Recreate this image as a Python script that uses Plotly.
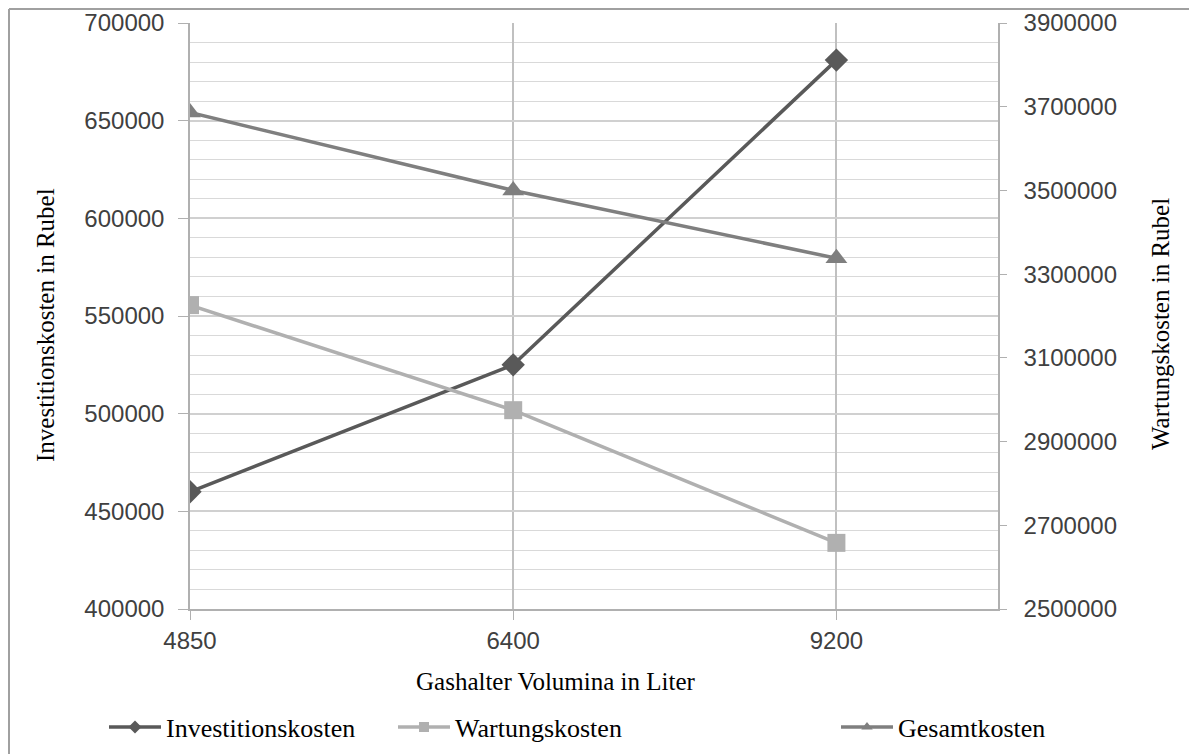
import plotly.graph_objects as go

# Gashalter volumes (category axis)
volumina = ["4850", "6400", "9200"]
x_pos = [0, 1, 2]

# left axis
investitionskosten = [460000, 525000, 681000]
# right axis
wartungskosten = [3226000, 2975000, 2658000]
gesamtkosten = [3686000, 3500000, 3338000]

# page has an 8px body margin, so the figure sits at (8, 8)
OFF = 8
W, H = 1197 - OFF, 754 - OFF
# plot area in page pixels: x 190..998, y 23..609
L, R, T, B = 190, 998, 23, 609


def px_x(px):
    return (px - L) / (R - L)


def px_y(py):
    return (B - py) / (B - T)


series = [
    ("Investitionskosten", investitionskosten, "y", "#595959", "diamond", 18, "legend"),
    ("Wartungskosten", wartungskosten, "y2", "#b0b0b0", "square", 18, "legend2"),
    ("Gesamtkosten", gesamtkosten, "y2", "#7f7f7f", "triangle-up", 19, "legend3"),
]

fig = go.Figure()

for name, vals, yax, col, sym, size, lg in series:
    fig.add_trace(go.Scatter(
        x=x_pos, y=vals, name=name, yaxis=yax, showlegend=False,
        mode="lines+markers", line=dict(color=col, width=3.5),
        marker=dict(symbol=sym, size=size, color=col)))
    # legend entry with the small marker used in the original
    fig.add_trace(go.Scatter(
        x=[None], y=[None], name=name, yaxis=yax, legend=lg,
        mode="lines+markers", line=dict(color=col, width=3.5),
        marker=dict(symbol=sym, size=10, color=col)))

tick_font = dict(family="Liberation Sans, Arial", size=24, color="#404040")
serif = dict(family="Liberation Serif, Times New Roman", size=25, color="black")
legend_font = dict(family="Liberation Serif, Times New Roman", size=26, color="black")

leg = dict(xanchor="left", yanchor="middle", font=legend_font,
           bgcolor="rgba(0,0,0,0)", itemwidth=52)

fig.update_layout(
    width=W, height=H,
    margin=dict(l=L - OFF, r=W - (R - OFF), t=T - OFF, b=H - (B - OFF),
                autoexpand=False),
    paper_bgcolor="white", plot_bgcolor="white",
    xaxis=dict(
        range=[0, 2.5], tickvals=x_pos, ticktext=volumina, automargin=False,
        showgrid=True, gridcolor="#c0c0c0", gridwidth=1.5,
        showline=True, linecolor="#b0b0b0", linewidth=1.5,
        ticks="outside", ticklen=9, tickcolor="#b0b0b0",
        tickfont=tick_font, zeroline=False, fixedrange=True),
    yaxis=dict(
        range=[400000, 700000], dtick=50000, tickformat="d", automargin=False,
        showgrid=True, gridcolor="#d0d0d0", gridwidth=1.5,
        minor=dict(dtick=10000, showgrid=True, gridcolor="#d9d9d9", gridwidth=1.2),
        showline=True, linecolor="#b0b0b0", linewidth=1.5,
        ticks="outside", ticklen=10, tickcolor="#b0b0b0",
        ticklabelstandoff=9,
        tickfont=tick_font, zeroline=False),
    yaxis2=dict(
        range=[2500000, 3900000], tick0=2500000, dtick=200000, tickformat="d",
        automargin=False,
        overlaying="y", side="right", showgrid=False,
        showline=True, linecolor="#b0b0b0", linewidth=1.5,
        ticks="outside", ticklen=7, tickcolor="#b0b0b0",
        ticklabelstandoff=12,
        tickfont=tick_font, zeroline=False),
    showlegend=True,
    legend=dict(x=px_x(104), y=px_y(727), **leg),
    legend2=dict(x=px_x(393), y=px_y(727), **leg),
    legend3=dict(x=px_x(836), y=px_y(727), **leg),
    hovermode=False,
)

fig.add_annotation(text="Investitionskosten in Rubel", xref="paper", yref="paper",
                   x=px_x(45), y=px_y(325), xanchor="center", yanchor="middle",
                   textangle=-90, showarrow=False, font=serif)
fig.add_annotation(text="Wartungskosten in Rubel", xref="paper", yref="paper",
                   x=px_x(1160), y=px_y(324), xanchor="center", yanchor="middle",
                   textangle=-90, showarrow=False, font=serif)
fig.add_annotation(text="Gashalter Volumina in Liter", xref="paper", yref="paper",
                   x=px_x(556), y=px_y(681), xanchor="center", yanchor="middle",
                   showarrow=False, font=serif)

# outer chart border (top and left edges visible)
fig.add_shape(type="line", xref="paper", yref="paper",
              x0=px_x(OFF + 1), x1=px_x(1200), y0=px_y(OFF + 1), y1=px_y(OFF + 1),
              line=dict(color="#a0a0a0", width=2))
fig.add_shape(type="line", xref="paper", yref="paper",
              x0=px_x(OFF + 1), x1=px_x(OFF + 1), y0=px_y(OFF + 1), y1=px_y(760),
              line=dict(color="#a0a0a0", width=2))

fig.write_html("out.html")
